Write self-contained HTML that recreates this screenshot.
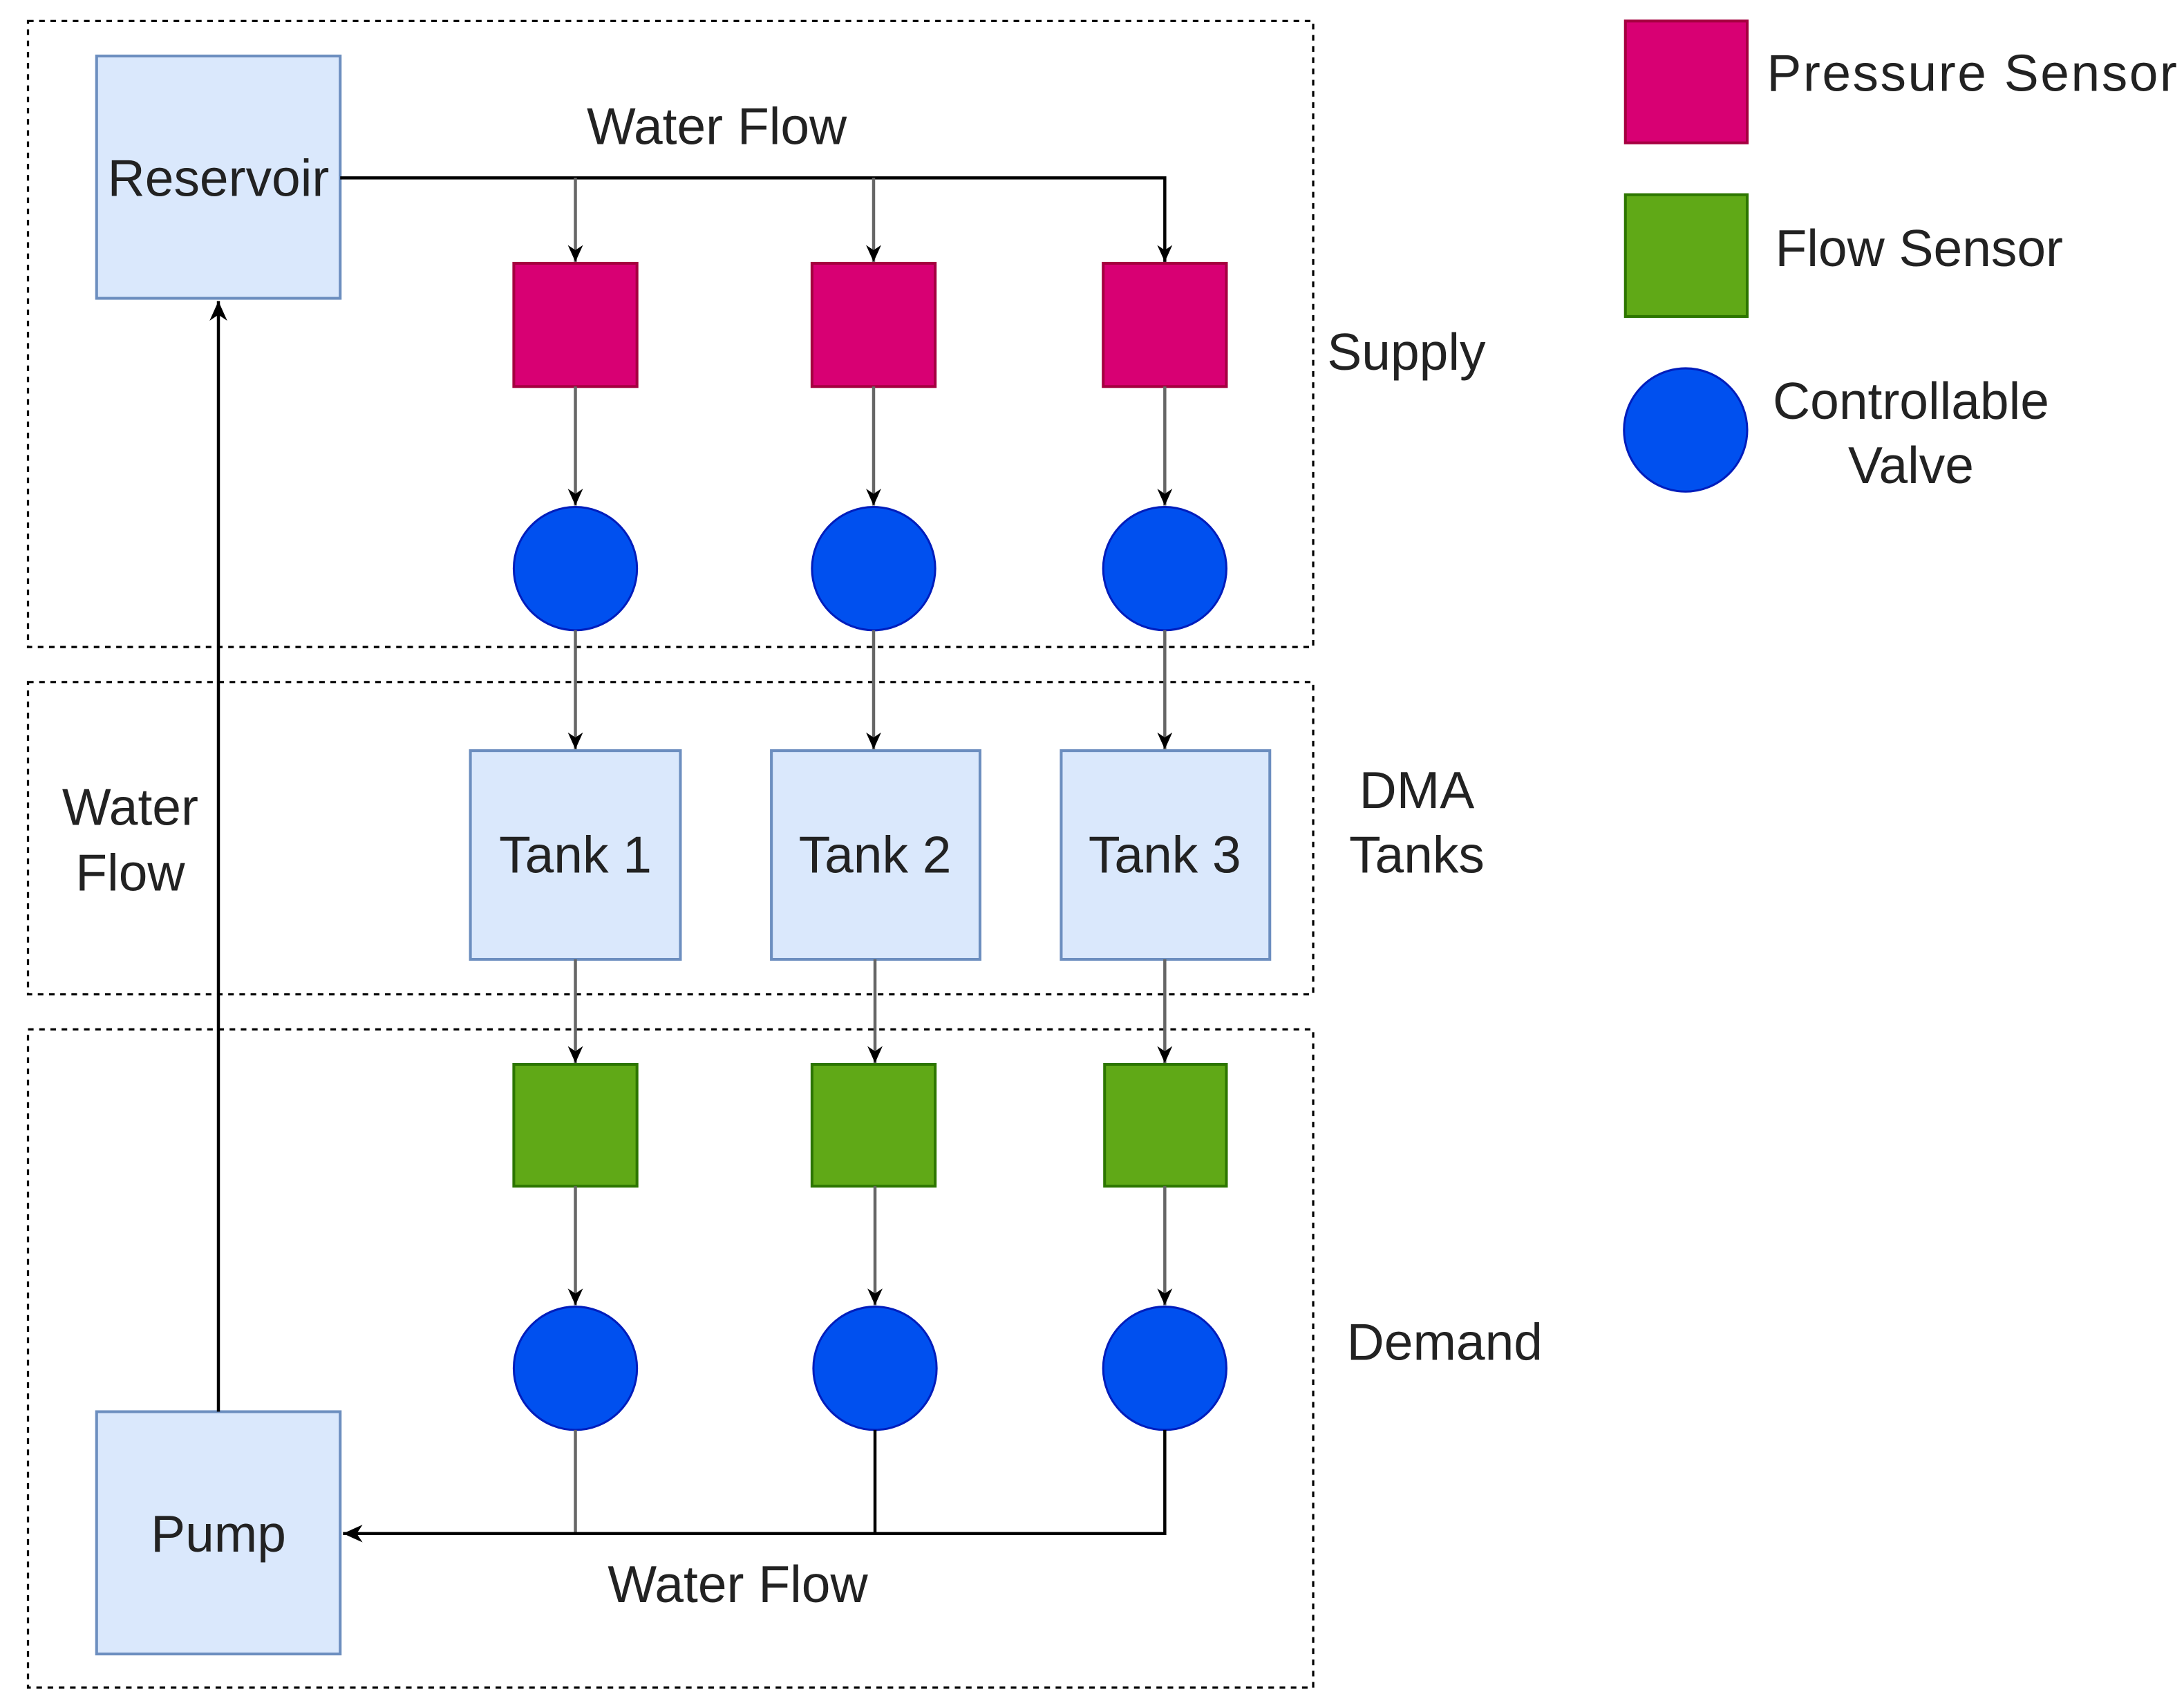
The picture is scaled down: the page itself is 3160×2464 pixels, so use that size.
<!DOCTYPE html>
<html><head><meta charset="utf-8"><style>html,body{margin:0;padding:0;background:#fff}svg{display:block}</style></head>
<body>
<svg width="3160" height="2464" viewBox="0 0 1560 1216" preserveAspectRatio="none" xmlns="http://www.w3.org/2000/svg" font-family="Liberation Sans, Arial, sans-serif" font-size="37" fill="#222">
<defs>
<marker id="a" viewBox="0 0 10 10" refX="10" refY="5" markerWidth="12" markerHeight="12" markerUnits="userSpaceOnUse" orient="auto"><path d="M0,0.5 L10,5 L0,9.5 L3,5 Z" fill="#000"/></marker>
<marker id="b" viewBox="0 0 10 10" refX="10" refY="5" markerWidth="14" markerHeight="14" markerUnits="userSpaceOnUse" orient="auto"><path d="M0,0.5 L10,5 L0,9.5 L3,5 Z" fill="#000"/></marker>
</defs>
<g fill="none" stroke="#000" stroke-width="1.6" stroke-dasharray="4,4">
<rect x="20" y="15" width="918" height="447"/>
<rect x="20" y="487" width="918" height="223"/>
<rect x="20" y="735" width="918" height="470"/>
</g>
<rect x="69" y="40" width="174" height="173" fill="#dae8fc" stroke="#6c8ebf" stroke-width="2"/>
<rect x="69" y="1008" width="174" height="173" fill="#dae8fc" stroke="#6c8ebf" stroke-width="2"/>
<g fill="#dae8fc" stroke="#6c8ebf" stroke-width="2">
<rect x="336" y="536" width="150" height="149"/>
<rect x="551" y="536" width="149" height="149"/>
<rect x="758" y="536" width="149" height="149"/>
</g>
<g fill="#d80073" stroke="#a50040" stroke-width="2">
<rect x="367" y="188" width="88" height="88"/>
<rect x="580" y="188" width="88" height="88"/>
<rect x="788" y="188" width="88" height="88"/>
<rect x="1161" y="15" width="87" height="87"/>
</g>
<g fill="#60a917" stroke="#2d7600" stroke-width="2">
<rect x="367" y="760" width="88" height="87"/>
<rect x="580" y="760" width="88" height="87"/>
<rect x="789" y="760" width="87" height="87"/>
<rect x="1161" y="139" width="87" height="87"/>
</g>
<g fill="#0050ef" stroke="#001dbc" stroke-width="1.5">
<circle cx="411" cy="406" r="44"/><circle cx="624" cy="406" r="44"/><circle cx="832" cy="406" r="44"/>
<circle cx="411" cy="977" r="44"/><circle cx="625" cy="977" r="44"/><circle cx="832" cy="977" r="44"/>
<circle cx="1204" cy="307" r="44"/>
</g>
<g fill="none" stroke-width="2.2">
<path d="M243,127 H832 V187" stroke="#000" marker-end="url(#a)"/>
<path d="M411,127 V187" stroke="#666" marker-end="url(#a)"/>
<path d="M624,127 V187" stroke="#666" marker-end="url(#a)"/>
<path d="M411,276 V361" stroke="#666" marker-end="url(#a)"/>
<path d="M624,276 V361" stroke="#666" marker-end="url(#a)"/>
<path d="M832,276 V361" stroke="#666" marker-end="url(#a)"/>
<path d="M411,450 V535" stroke="#666" marker-end="url(#a)"/>
<path d="M624,450 V535" stroke="#666" marker-end="url(#a)"/>
<path d="M832,450 V535" stroke="#666" marker-end="url(#a)"/>
<path d="M411,685 V759" stroke="#666" marker-end="url(#a)"/>
<path d="M625,685 V759" stroke="#666" marker-end="url(#a)"/>
<path d="M832,685 V759" stroke="#666" marker-end="url(#a)"/>
<path d="M411,847 V932" stroke="#666" marker-end="url(#a)"/>
<path d="M625,847 V932" stroke="#666" marker-end="url(#a)"/>
<path d="M832,847 V932" stroke="#666" marker-end="url(#a)"/>
<path d="M411,1021 V1095" stroke="#666"/>
<path d="M625,1021 V1095" stroke="#000"/>
<path d="M832,1021 V1095 H245" stroke="#000" marker-end="url(#b)"/>
<path d="M156,1008 V215" stroke="#000" marker-end="url(#b)"/>
</g>
<g text-anchor="middle">
<text x="156" y="140">Reservoir</text>
<text x="156" y="1108">Pump</text>
<text x="411" y="623">Tank 1</text>
<text x="625" y="623">Tank 2</text>
<text x="832" y="623">Tank 3</text>
<text x="512" y="103">Water Flow</text>
<text x="527" y="1144">Water Flow</text>
<text x="93" y="589">Water</text>
<text x="93" y="636">Flow</text>
<text x="1012" y="577">DMA</text>
<text x="1012" y="623">Tanks</text>
<text x="1365" y="299">Controllable</text>
<text x="1365" y="345">Valve</text>
</g>
<text x="948" y="264">Supply</text>
<text x="962" y="971">Demand</text>
<text x="1262" y="65" textLength="293">Pressure Sensor</text>
<text x="1268" y="190">Flow Sensor</text>
</svg>
</body></html>
